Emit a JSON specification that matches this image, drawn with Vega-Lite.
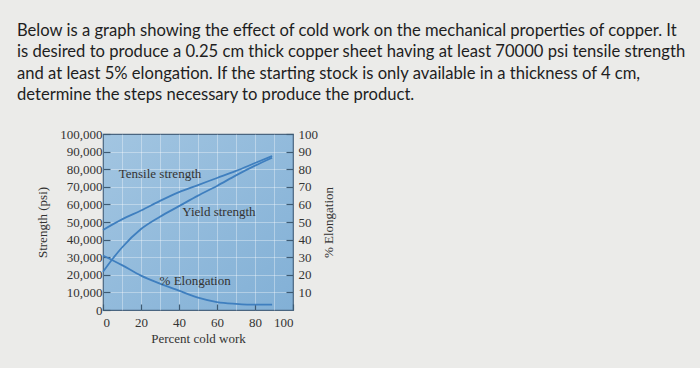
{
  "$schema": "https://vega.github.io/schema/vega-lite/v6.json",
  "width": 190,
  "height": 176,
  "autosize": {"type": "none"},
  "padding": {"left": 103, "top": 134, "right": 407, "bottom": 58},
  "background": "#ebebe9",
  "title": {
    "text": [
      "Below is a graph showing the effect of cold work on the mechanical properties of copper. It",
      "is desired to produce a 0.25 cm thick copper sheet having at least 70000 psi tensile strength",
      "and at least 5% elongation. If the starting stock is only available in a thickness of 4 cm,",
      "determine the steps necessary to produce the product."
    ],
    "anchor": "start",
    "frame": "group",
    "dx": -86,
    "offset": 24,
    "font": "Lato",
    "fontSize": 16.6,
    "fontWeight": "normal",
    "color": "#1e1e1e",
    "lineHeight": 21.5
  },
  "config": {
    "view": {
      "fill": {
        "gradient": "linear",
        "x1": 0, "y1": 0, "x2": 1, "y2": 1,
        "stops": [
          {"offset": 0, "color": "#a2c5e1"},
          {"offset": 1, "color": "#82b0d6"}
        ]
      },
      "stroke": "#4a6580",
      "strokeWidth": 1.2
    },
    "axis": {
      "labelFont": "Liberation Serif",
      "labelFontSize": 13,
      "labelColor": "#333333",
      "titleFont": "Liberation Serif",
      "titleFontSize": 13,
      "titleFontWeight": "normal",
      "titleColor": "#333333",
      "domain": false,
      "tickColor": "#3d5a73",
      "tickWidth": 1.2,
      "gridColor": "#ffffff",
      "gridOpacity": 0.35,
      "gridWidth": 1
    }
  },
  "datasets": {
    "strength": [
      {"cw": 0, "strength": 45500, "series": "Tensile strength"},
      {"cw": 10, "strength": 51500, "series": "Tensile strength"},
      {"cw": 20, "strength": 56500, "series": "Tensile strength"},
      {"cw": 30, "strength": 62000, "series": "Tensile strength"},
      {"cw": 40, "strength": 67000, "series": "Tensile strength"},
      {"cw": 50, "strength": 71000, "series": "Tensile strength"},
      {"cw": 60, "strength": 75000, "series": "Tensile strength"},
      {"cw": 70, "strength": 79000, "series": "Tensile strength"},
      {"cw": 80, "strength": 83500, "series": "Tensile strength"},
      {"cw": 89, "strength": 87500, "series": "Tensile strength"},
      {"cw": 0, "strength": 21700, "series": "Yield strength"},
      {"cw": 5, "strength": 29000, "series": "Yield strength"},
      {"cw": 10, "strength": 35500, "series": "Yield strength"},
      {"cw": 20, "strength": 46000, "series": "Yield strength"},
      {"cw": 30, "strength": 53000, "series": "Yield strength"},
      {"cw": 40, "strength": 59000, "series": "Yield strength"},
      {"cw": 50, "strength": 65000, "series": "Yield strength"},
      {"cw": 60, "strength": 70500, "series": "Yield strength"},
      {"cw": 70, "strength": 76500, "series": "Yield strength"},
      {"cw": 80, "strength": 82000, "series": "Yield strength"},
      {"cw": 89, "strength": 86500, "series": "Yield strength"}
    ],
    "elongation": [
      {"cw": 0, "elong": 31},
      {"cw": 10, "elong": 25.5},
      {"cw": 20, "elong": 19.5},
      {"cw": 30, "elong": 15},
      {"cw": 40, "elong": 11},
      {"cw": 50, "elong": 7},
      {"cw": 60, "elong": 4.5},
      {"cw": 70, "elong": 3.5},
      {"cw": 80, "elong": 3},
      {"cw": 89, "elong": 3}
    ],
    "labels": [
      {"cw": 30, "value": 77000, "label": "Tensile strength"},
      {"cw": 61, "value": 55500, "label": "Yield strength"},
      {"cw": 48.5, "value": 16500, "label": "% Elongation"}
    ]
  },
  "layer": [
    {
      "data": {"name": "strength"},
      "mark": {"type": "line", "interpolate": "monotone", "color": "#3f7fbf", "strokeWidth": 1.8},
      "encoding": {
        "x": {
          "field": "cw", "type": "quantitative",
          "scale": {"domain": [0, 100], "nice": false},
          "axis": {
            "orient": "bottom", "title": "Percent cold work",
            "values": [0, 20, 40, 60, 80, 100],
            "grid": false, "tickSize": -6, "labelPadding": 12, "titlePadding": 3
          }
        },
        "y": {
          "field": "strength", "type": "quantitative",
          "scale": {"domain": [0, 100000], "nice": false},
          "axis": {
            "orient": "left", "title": "Strength (psi)", "format": ",.0f",
            "values": [0, 10000, 20000, 30000, 40000, 50000, 60000, 70000, 80000, 90000, 100000],
            "grid": false, "tickSize": -7, "labelPadding": 8, "titlePadding": 10
          }
        },
        "detail": {"field": "series"}
      }
    },
    {
      "data": {"name": "elongation"},
      "mark": {"type": "line", "interpolate": "monotone", "color": "#3f7fbf", "strokeWidth": 1.8},
      "encoding": {
        "x": {
          "field": "cw", "type": "quantitative",
          "scale": {"domain": [0, 100], "nice": false},
          "axis": {
            "orient": "top", "title": null, "values": [10, 20, 30, 40, 50, 60, 70, 80, 90],
            "grid": true, "ticks": false, "labels": false, "domain": false
          }
        },
        "y": {
          "field": "elong", "type": "quantitative",
          "scale": {"domain": [0, 100], "nice": false},
          "axis": {
            "orient": "right", "title": "% Elongation", "titleAngle": 270,
            "values": [10, 20, 30, 40, 50, 60, 70, 80, 90, 100],
            "grid": false, "tickSize": -7, "labelPadding": 12, "titlePadding": 18
          }
        }
      }
    },
    {
      "data": {"name": "labels"},
      "mark": {"type": "text", "font": "Liberation Serif", "fontSize": 13, "color": "#333333"},
      "encoding": {
        "x": {"field": "cw", "type": "quantitative", "scale": {"domain": [0, 100], "nice": false}, "axis": null},
        "y": {
          "field": "value", "type": "quantitative",
          "scale": {"domain": [0, 100000], "nice": false},
          "axis": {
            "orient": "left", "title": null,
            "values": [10000, 20000, 30000, 40000, 50000, 60000, 70000, 80000, 90000],
            "grid": true, "ticks": false, "labels": false, "domain": false
          }
        },
        "text": {"field": "label"}
      }
    }
  ],
  "resolve": {"scale": {"y": "independent"}, "axis": {"x": "independent", "y": "independent"}}
}
